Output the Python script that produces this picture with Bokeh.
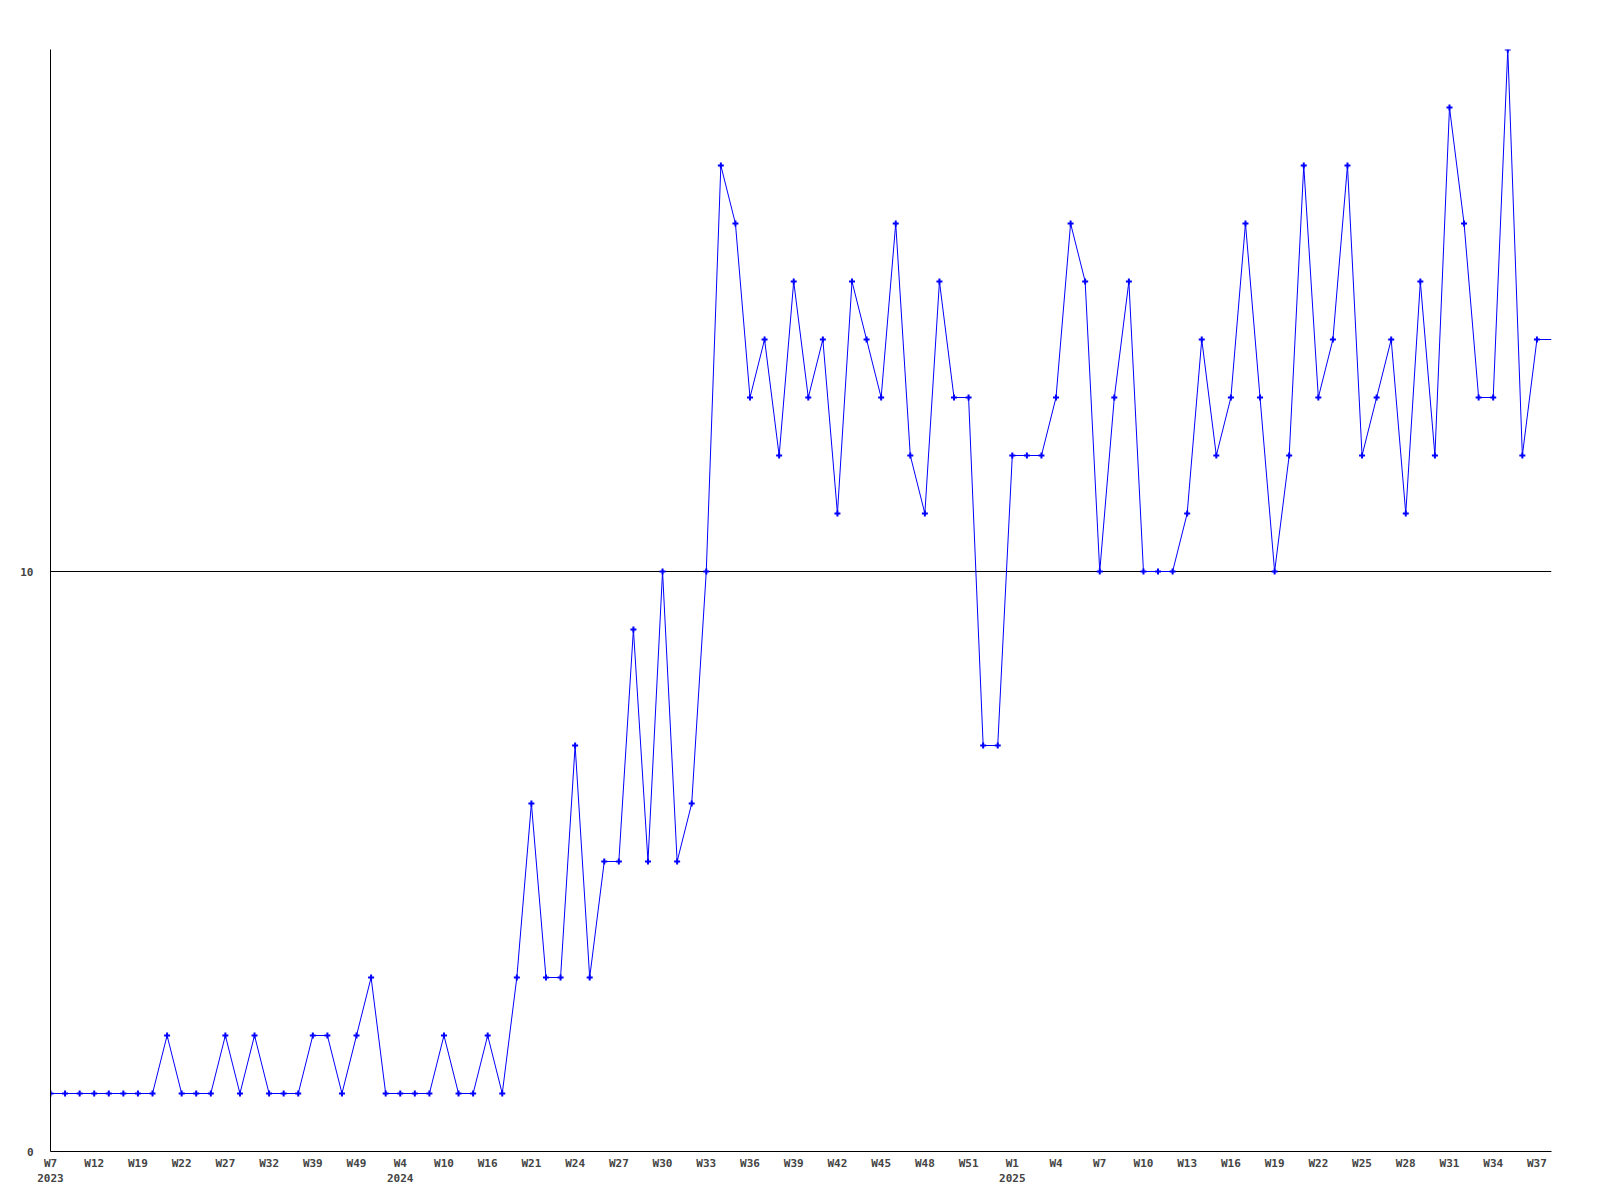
from bokeh.plotting import figure
from bokeh.models import Range1d, FixedTicker
from bokeh.embed import file_html
from bokeh.resources import INLINE

# weekly counts, one per plotted week
values = [1, 1, 1, 1, 1, 1, 1, 1, 2, 1,
          1, 1, 2, 1, 2, 1, 1, 1, 2, 2,
          1, 2, 3, 1, 1, 1, 1, 2, 1, 1,
          2, 1, 3, 6, 3, 3, 7, 3, 5, 5,
          9, 5, 10, 5, 6, 10, 17, 16, 13, 14,
          12, 15, 13, 14, 11, 15, 14, 13, 16, 12,
          11, 15, 13, 13, 7, 7, 12, 12, 12, 13,
          16, 15, 10, 13, 15, 10, 10, 10, 11, 14,
          12, 13, 16, 13, 10, 12, 17, 13, 14, 17,
          12, 13, 14, 11, 15, 12, 18, 16, 13, 13,
          19, 12, 14]

# labelled weeks (every third plotted week)
tick_weeks = ["W7", "W12", "W19", "W22", "W27", "W32", "W39", "W49",
              "W4", "W10", "W16", "W21", "W24", "W27", "W30", "W33",
              "W36", "W39", "W42", "W45", "W48", "W51", "W1", "W4",
              "W7", "W10", "W13", "W16", "W19", "W22", "W25", "W28",
              "W31", "W34", "W37"]
tick_step = 3
year_labels = {0: "2023", 24: "2024", 66: "2025"}

y_ticks = [0, 10]
y_max = 19

n = len(values)
xs = list(range(n))
tick_pos = [i * tick_step for i in range(len(tick_weeks))]
overrides = {}
for pos, w in zip(tick_pos, tick_weeks):
    overrides[pos] = w + ("\n" + year_labels[pos] if pos in year_labels else "")

p = figure(frame_width=1501, frame_height=1102,
           x_range=Range1d(0, n), y_range=Range1d(0, y_max),
           output_backend="svg", toolbar_location=None,
           min_border_left=50, min_border_top=49,
           min_border_right=40, min_border_bottom=40)
p.outline_line_color = None
p.background_fill_color = "white"
p.border_fill_color = "white"

# line continues flat to the right edge at the last value
p.line(xs + [n], values + [values[-1]], line_color="#0000ff", line_width=1)
p.scatter(xs, values, marker="cross", size=6, line_width=2, color="#0000ff")

font = "DejaVu Sans Mono"

p.xaxis.ticker = FixedTicker(ticks=tick_pos)
p.xaxis.major_label_overrides = overrides
p.xaxis.major_tick_line_color = None
p.xaxis.major_tick_out = 0
p.xaxis.major_tick_in = 0
p.xaxis.minor_tick_line_color = None
p.xaxis.major_label_text_font = font
p.xaxis.major_label_text_font_style = "bold"
p.xaxis.major_label_text_font_size = "11px"
p.xaxis.major_label_standoff = 5
p.xaxis.axis_line_color = "black"

p.yaxis.ticker = FixedTicker(ticks=y_ticks)
p.yaxis.major_tick_line_color = None
p.yaxis.major_tick_out = 0
p.yaxis.major_tick_in = 0
p.yaxis.minor_tick_line_color = None
p.yaxis.major_label_text_font = font
p.yaxis.major_label_text_font_style = "bold"
p.yaxis.major_label_text_font_size = "11px"
p.yaxis.major_label_standoff = 17
p.yaxis.axis_line_color = "black"

p.xgrid.grid_line_color = None
p.ygrid.ticker = FixedTicker(ticks=[10])
p.ygrid.grid_line_color = "black"
p.ygrid.grid_line_width = 1

open("out.html", "w").write(file_html(p, INLINE))
